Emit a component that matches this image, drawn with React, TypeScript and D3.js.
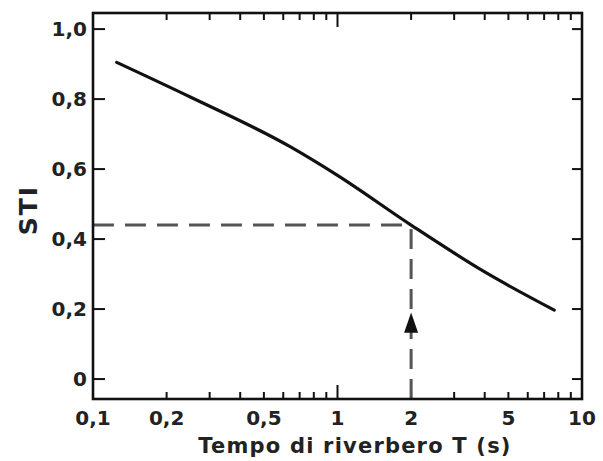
import React from "react";
import * as d3 from "d3";

// Data
const curveT = [0.125, 0.25, 0.64, 1.0, 2.0, 4.0, 7.7];
const curveSTI = [0.905, 0.806, 0.664, 0.582, 0.44, 0.306, 0.197];
const yTicks = [0, 0.2, 0.4, 0.6, 0.8, 1.0];
const yTickLabels = ["0", "0,2", "0,4", "0,6", "0,8", "1,0"];
const xTickValues = [0.1, 0.2, 0.5, 1, 2, 5, 10];
const xTickLabels = ["0,1", "0,2", "0,5", "1", "2", "5", "10"];
const markT = 2;
const markSTI = 0.44;
const arrowTipSTI = 0.19;
const arrowBaseSTI = 0.132;

const W = 603, H = 461;
const L = 93, R = 582, T = 13, B = 399;

export default function App() {
  const x = d3.scaleLog().domain([0.1, 10]).range([L, R]);
  const y = d3.scaleLinear().domain([-0.057, 1.046]).range([B, T]);
  const pts: [number, number][] = curveT.map((t, i) => [x(t), y(curveSTI[i])]);
  const line = d3.line().curve(d3.curveMonotoneX)(pts) || "";

  const minor: number[] = [];
  for (let dec = 0.1; dec < 10; dec *= 10) {
    for (let k = 1; k <= 10; k++) minor.push(+(dec * k).toPrecision(3));
  }
  const uniq = Array.from(new Set(minor));
  const font = "'DejaVu Sans', Verdana, sans-serif";
  const txt = "#222";

  const ax = x(markT), ay = y(markSTI);
  const tipY = y(arrowTipSTI), baseY = y(arrowBaseSTI);

  return (
    <svg width={W} height={H} style={{ display: "block", position: "absolute", left: 0, top: 0 }}>
      <rect width={W} height={H} fill="#fff" />
      {uniq.map((v) => {
        const isMajor = Math.abs(Math.log10(v) - Math.round(Math.log10(v))) < 1e-6;
        const len = isMajor ? 14 : 7;
        return (
          <g key={"xt" + v}>
            <line x1={x(v)} x2={x(v)} y1={B} y2={B - len} stroke="#111" strokeWidth={2} />
            <line x1={x(v)} x2={x(v)} y1={T} y2={T + len} stroke="#111" strokeWidth={2} />
          </g>
        );
      })}
      {yTicks.map((v) => (
        <g key={"yt" + v}>
          <line x1={L} x2={L + 12} y1={y(v)} y2={y(v)} stroke="#111" strokeWidth={2} />
          <line x1={R} x2={R - 10} y1={y(v)} y2={y(v)} stroke="#111" strokeWidth={2} />
        </g>
      ))}
      <path d={`M${L},${ay}H${ax}`} fill="none" stroke="#555" strokeWidth={3} strokeDasharray="21,11" />
      <path d={`M${ax},${B}V${ay}`} fill="none" stroke="#555" strokeWidth={3} strokeDasharray="20,10" />
      <path d={`M${ax},${tipY}L${ax - 7},${baseY}L${ax + 7},${baseY}Z`} fill="#111" />
      <path d={line} fill="none" stroke="#111" strokeWidth={3.2} strokeLinecap="round" />
      <rect x={L} y={T} width={R - L} height={B - T} fill="none" stroke="#111" strokeWidth={2.6} />
      {yTicks.map((v, i) => (
        <text key={"yl" + v} x={L - 6} y={y(v)} dy="0.36em" textAnchor="end"
          fontFamily={font} fontWeight="bold" fontSize={20} fill={txt}>
          {yTickLabels[i]}
        </text>
      ))}
      {xTickValues.map((v, i) => (
        <text key={"xl" + v} x={x(v)} y={425} textAnchor="middle"
          fontFamily={font} fontWeight="bold" fontSize={20} fill={txt}>
          {xTickLabels[i]}
        </text>
      ))}
      <text x={355} y={453} textAnchor="middle" fontFamily={font} fontWeight="bold"
        fontSize={21} letterSpacing={1.2} fill={txt}>
        Tempo di riverbero T (s)
      </text>
      <text transform={`translate(37,210) rotate(-90)`} textAnchor="middle" fontFamily={font}
        fontWeight="bold" fontSize={25} letterSpacing={2} fill={txt}>
        STI
      </text>
    </svg>
  );
}
